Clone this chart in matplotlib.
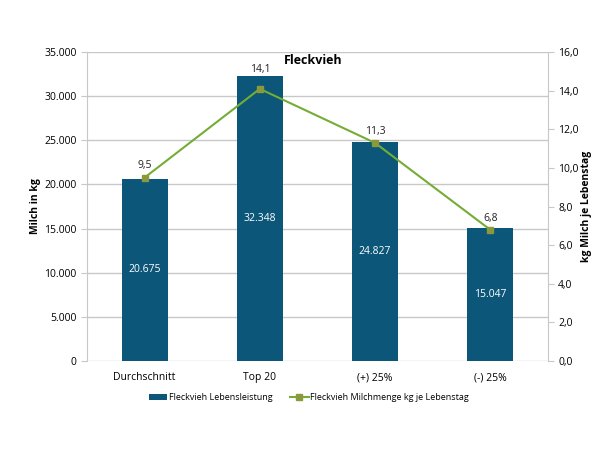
import matplotlib.pyplot as plt
import numpy as np

plt.rcParams['font.family'] = ['Open Sans', 'DejaVu Sans']

categories = ["Durchschnitt", "Top 20", "(+) 25%", "(-) 25%"]
lebensleistung = [20675, 32348, 24827, 15047]
lebenstag = [9.5, 14.1, 11.3, 6.8]

bar_color = "#0b5679"
line_color = "#74ad35"
grid_color = "#c8c8c8"

def de_int(v):
    return f"{v:,.0f}".replace(",", ".")

fig = plt.figure(figsize=(6, 4.5), dpi=100)
ax = fig.add_axes([0.145, 0.198, 0.768, 0.686])
x = np.arange(len(categories))

bars = ax.bar(x, lebensleistung, width=0.4, color=bar_color, zorder=2,
              label="Fleckvieh Lebensleistung")
for xi, v in zip(x, lebensleistung):
    ax.text(xi, v / 2, de_int(v), ha="center", va="center", color="white", fontsize=7.5)

ax.set_ylim(0, 35000)
ax.set_yticks(np.arange(0, 35001, 5000))
ax.set_yticklabels([de_int(t) for t in np.arange(0, 35001, 5000)], fontsize=7.5)
ax.set_xlim(-0.5, 3.5)
ax.set_xticks(x)
ax.set_xticklabels(categories, fontsize=7.5)
ax.tick_params(axis="x", length=0, pad=8)
ax.tick_params(axis="y", color=grid_color, length=4)
ax.yaxis.grid(True, color=grid_color, linewidth=1, zorder=0)
ax.set_axisbelow(True)
for s in ["top", "right", "bottom"]:
    ax.spines[s].set_visible(False)
ax.spines["left"].set_color(grid_color)
ax.set_ylabel("Milch in kg", fontsize=7.5, fontweight="bold", labelpad=2)

ax2 = ax.twinx()
line, = ax2.plot(x, lebenstag, color=line_color, linewidth=1.5, marker="s",
                 markersize=4, markerfacecolor="#8a9a3a", markeredgecolor="#8a9a3a",
                 label="Fleckvieh Milchmenge kg je Lebenstag", zorder=3)
for xi, v, b in zip(x, lebenstag, lebensleistung):
    top = max(v + 0.32, b / 35000 * 16 + 0.05)
    ax2.text(xi, top, f"{v:.1f}".replace(".", ","), ha="center", va="bottom",
             fontsize=7.5, color="#222222")
ax2.set_ylim(0, 16)
ax2.set_yticks(np.arange(0, 16.1, 2))
ax2.set_yticklabels([f"{t:.1f}".replace(".", ",") for t in np.arange(0, 16.1, 2)], fontsize=7.5)
ax2.tick_params(axis="y", color=grid_color, length=4)
for s in ["top", "left", "bottom"]:
    ax2.spines[s].set_visible(False)
ax2.spines["right"].set_color(grid_color)
ax2.set_ylabel("kg Milch je Lebenstag", fontsize=7.5, fontweight="bold", labelpad=2)

ax.text(1.46, 34100, "Fleckvieh", ha="center", va="center", fontsize=9, fontweight="bold")

fig.legend([bars, line], ["Fleckvieh Lebensleistung", "Fleckvieh Milchmenge kg je Lebenstag"],
           loc="center", bbox_to_anchor=(0.515, 0.116), ncol=2, frameon=False,
           fontsize=6.5, handlelength=2.0, handleheight=0.6, handletextpad=0.2,
           columnspacing=2.0)

fig.savefig("out.png", dpi=100, facecolor="white")
